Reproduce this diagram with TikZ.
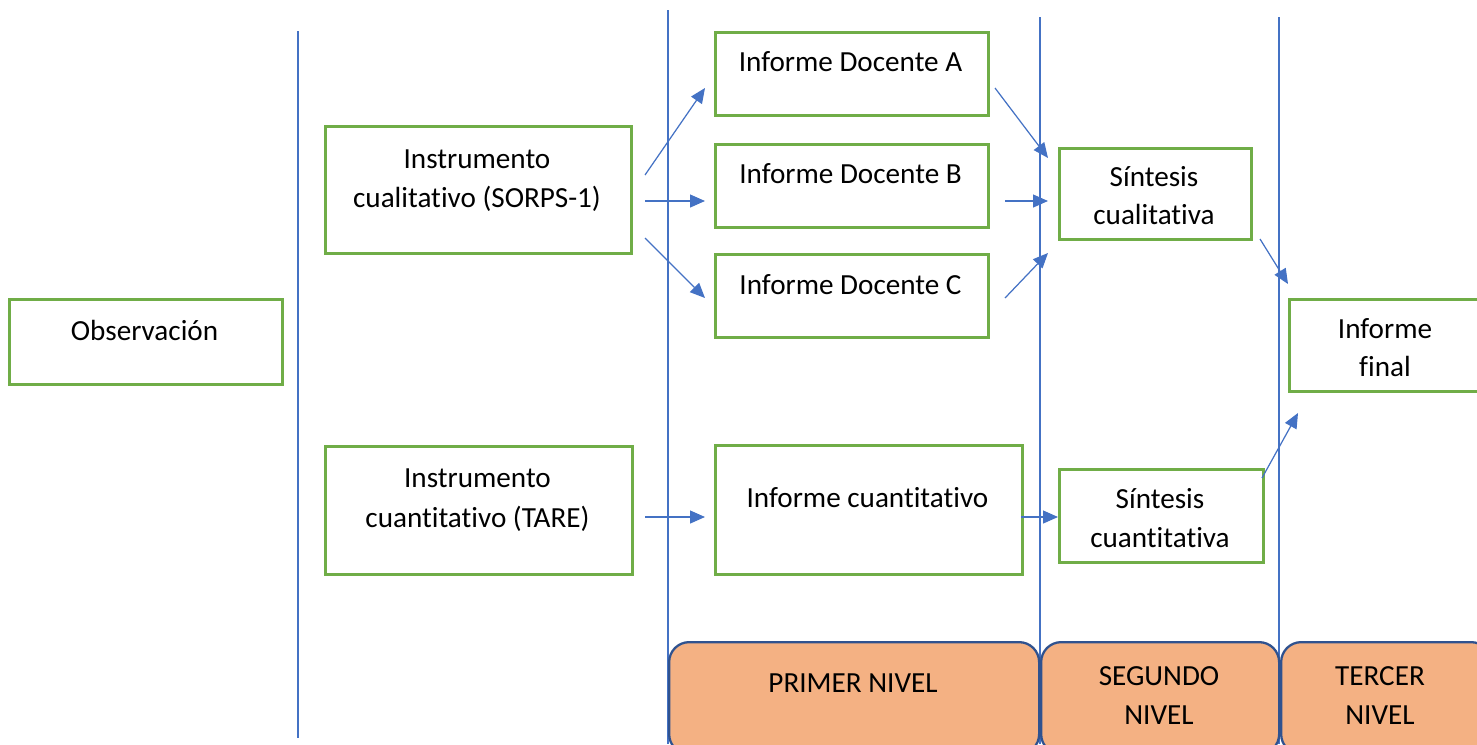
\documentclass[tikz,border=0pt]{standalone}
\usepackage{fontspec}
\setmainfont{Carlito}[Ligatures={NoCommon}]
\usetikzlibrary{arrows.meta}
\definecolor{boxgreen}{HTML}{70AD47}
\definecolor{linkblue}{HTML}{4472C4}
\definecolor{levelfill}{HTML}{F4B183}
\definecolor{levelborder}{HTML}{2F528F}
\begin{document}
\begin{tikzpicture}[x=0.02cm,y=-0.02cm,
  sz/.style n args={2}{minimum width=#1*0.02cm, minimum height=#2*0.02cm},
  box/.style={draw=boxgreen, line width=1.5pt, fill=white, inner sep=0pt, anchor=north west},
  level/.style={draw=levelborder, line width=1.3pt, fill=levelfill, rounded corners=0.4cm, inner sep=0pt, anchor=north west},
  txt/.style={anchor=base, inner sep=0pt, font=\fontsize{16.6}{20}\selectfont},
  divider/.style={draw=linkblue, line width=0.7pt},
  link/.style={draw=linkblue, line width=0.7pt, -{Triangle[length=0.3cm,width=0.26cm]}}
]
\useasboundingbox (0,0) rectangle (1477,744);

% column dividers
\coordinate (d0t) at (298,31);   \coordinate (d0b) at (298,738);
\coordinate (d1t) at (668,10);   \coordinate (d1b) at (668,744);
\coordinate (d2t) at (1040,17);  \coordinate (d2b) at (1040,744);
\coordinate (d3t) at (1279,17);  \coordinate (d3b) at (1279,744);
\draw[divider] (d0t) -- (d0b);
\draw[divider] (d1t) -- (d1b);
\draw[divider] (d2t) -- (d2b);
\draw[divider] (d3t) -- (d3b);

% boxes
\node[box, sz={273}{85}]  (obs)    at (8,298) {};
\node[box, sz={306}{127}] (icual)  at (324,125) {};
\node[box, sz={307}{128}] (icuant) at (324,445) {};
\node[box, sz={273}{83}]  (ida)    at (714,31) {};
\node[box, sz={273}{83}]  (idb)    at (714,143) {};
\node[box, sz={273}{83}]  (idc)    at (714,253) {};
\node[box, sz={307}{129}] (icu)    at (714,444) {};
\node[box, sz={192}{91}]  (scual)  at (1058,147) {};
\node[box, sz={204}{93}]  (scuant) at (1058,468) {};
\node[box, sz={200}{92}]  (ifin)   at (1288,298) {};

% level bands
\node[level, sz={370}{112}] (pn) at (668,641) {};
\node[level, sz={238}{112}] (sn) at (1040,641) {};
\node[level, sz={210}{112}] (tn) at (1280,641) {};

% labels
\node[txt] (tobs) at (144.5,340) {Observación};
\node[txt] (ticual1) at (477,168) {Instrumento};
\node[txt] (ticual2) at (477,207) {cualitativo (SORPS-1)};
\node[txt] (ticuant1) at (477.5,487) {Instrumento};
\node[txt] (ticuant2) at (477.5,527) {cuantitativo (TARE)};
\node[txt] (tida) at (850.5,71) {Informe Docente A};
\node[txt] (tidb) at (850.5,183) {Informe Docente B};
\node[txt] (tidc) at (850.5,294) {Informe Docente C};
\node[txt] (ticu) at (867.5,507) {Informe cuantitativo};
\node[txt] (tscual1) at (1154,186) {Síntesis};
\node[txt] (tscual2) at (1154,224) {cualitativa};
\node[txt] (tscuant1) at (1160,508) {Síntesis};
\node[txt] (tscuant2) at (1160,547) {cuantitativa};
\node[txt] (tifin1) at (1385,338) {Informe};
\node[txt] (tifin2) at (1385,376) {final};
\node[txt] (tpn) at (853,692) {PRIMER NIVEL};
\node[txt] (tsn1) at (1159,685) {SEGUNDO};
\node[txt] (tsn2) at (1159,724) {NIVEL};
\node[txt] (ttn1) at (1380,685) {TERCER};
\node[txt] (ttn2) at (1380,724) {NIVEL};

% arrow end points
\coordinate (a1s) at (645,175);  \coordinate (a1e) at (705,88);
\coordinate (a2s) at (645,201);  \coordinate (a2e) at (705,201);
\coordinate (a3s) at (645,238);  \coordinate (a3e) at (705,298);
\coordinate (a4s) at (995,88);   \coordinate (a4e) at (1048,158);
\coordinate (a5s) at (1005,201); \coordinate (a5e) at (1048,201);
\coordinate (a6s) at (1005,298); \coordinate (a6e) at (1048,253);
\coordinate (a7s) at (1260,239); \coordinate (a7e) at (1288,284);
\coordinate (a8s) at (1262,478); \coordinate (a8e) at (1298,413);
\coordinate (a9s) at (645,517);  \coordinate (a9e) at (705,517);
\coordinate (a10s) at (1021,517); \coordinate (a10e) at (1058,517);

\draw[link] (a1s) -- (a1e);
\draw[link] (a2s) -- (a2e);
\draw[link] (a3s) -- (a3e);
\draw[link] (a4s) -- (a4e);
\draw[link] (a5s) -- (a5e);
\draw[link] (a6s) -- (a6e);
\draw[link] (a7s) -- (a7e);
\draw[link] (a8s) -- (a8e);
\draw[link] (a9s) -- (a9e);
\draw[link] (a10s) -- (a10e);
\end{tikzpicture}
\end{document}
